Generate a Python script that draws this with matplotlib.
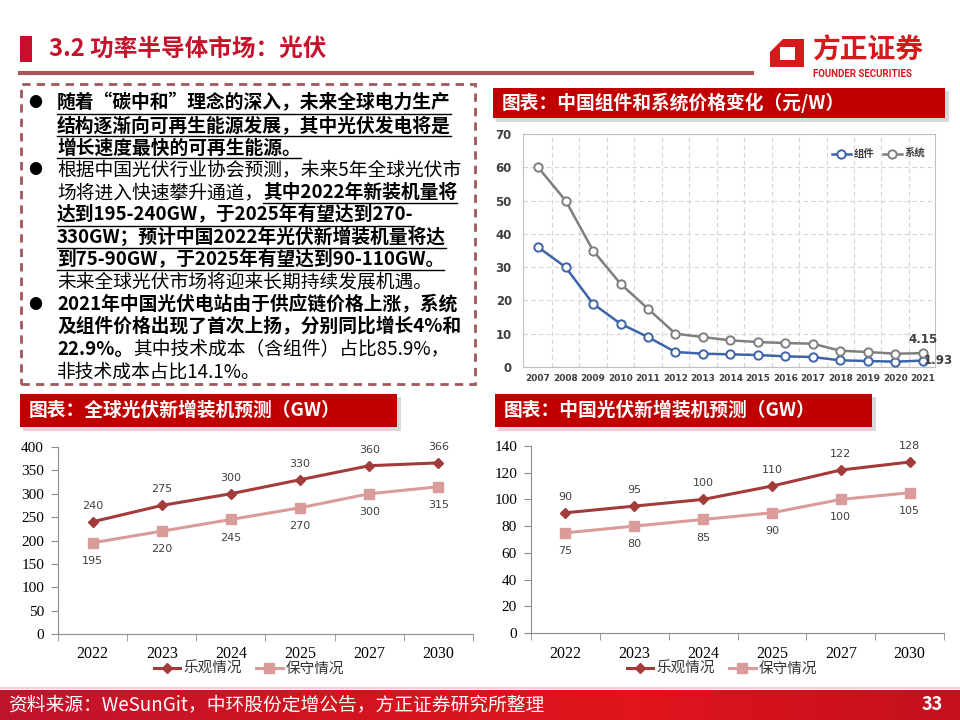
import matplotlib
matplotlib.use('Agg')
import matplotlib.pyplot as plt
from matplotlib.patches import Rectangle, Polygon
from matplotlib.colors import LinearSegmentedColormap
import numpy as np

W, H = 960, 720
CJK = ['Noto Sans CJK SC', 'DejaVu Sans']
SERIF = ['Liberation Serif', 'DejaVu Serif']

# price chart data (yuan/W)
price_years = ['2007', '2008', '2009', '2010', '2011', '2012', '2013', '2014',
               '2015', '2016', '2017', '2018', '2019', '2020', '2021']
module_price = [36, 30, 19, 13, 9, 4.5, 4, 3.8, 3.6, 3.2, 3, 2, 1.8, 1.6, 1.93]
system_price = [60, 50, 35, 25, 17.5, 10, 9, 8, 7.5, 7.2, 7, 4.9, 4.5, 4, 4.15]

# installation forecasts (GW)
forecast_years = ['2022', '2023', '2024', '2025', '2027', '2030']
global_optimistic = [240, 275, 300, 330, 360, 366]
global_conservative = [195, 220, 245, 270, 300, 315]
china_optimistic = [90, 95, 100, 110, 122, 128]
china_conservative = [75, 80, 85, 90, 100, 105]

body_lines = [
    [('随着“碳中和”理念的深入，未来全球电力生产', True, True)],
    [('结构逐渐向可再生能源发展，其中光伏发电将是', True, True)],
    [('增长速度最快的可再生能源。', True, True)],
    [('根据中国光伏行业协会预测，未来5年全球光伏市', False, False)],
    [('场将进入快速攀升通道，', False, False), ('其中2022年新装机量将', True, True)],
    [('达到195-240GW，于2025年有望达到270-', True, True)],
    [('330GW；预计中国2022年光伏新增装机量将达', True, True)],
    [('到75-90GW，于2025年有望达到90-110GW。', True, True)],
    [('未来全球光伏市场将迎来长期持续发展机遇。', False, False)],
    [('2021年中国光伏电站由于供应链价格上涨，系统', True, False)],
    [('及组件价格出现了首次上扬，分别同比增长4%和', True, False)],
    [('22.9%。', True, False), ('其中技术成本（含组件）占比85.9%，', False, False)],
    [('非技术成本占比14.1%。', False, False)],
]
bullet_rows = [0, 3, 9]


def fy(y):
    return 1 - y / H


def frect(x0, y0, x1, y1):
    return [x0 / W, 1 - y1 / H, (x1 - x0) / W, (y1 - y0) / H]


def add_rect(fig, x0, y0, x1, y1, **kw):
    fig.patches.append(Rectangle((x0 / W, fy(y1)), (x1 - x0) / W, (y1 - y0) / H,
                                 transform=fig.transFigure, **kw))


def add_line(fig, x0, y0, x1, y1, **kw):
    fig.add_artist(plt.Line2D([x0 / W, x1 / W], [fy(y0), fy(y1)],
                              transform=fig.transFigure, **kw))


def header(fig, x0, y0, x1, y1, text):
    add_rect(fig, x0 + 3, y0 + 3, x1 + 4, y1 + 4, fc='#D9D9D9', ec='none')
    add_rect(fig, x0, y0, x1, y1, fc='#C00000', ec='none')
    fig.text((x0 + 9) / W, fy((y0 + y1) / 2), text, family=CJK, fontsize=13.5,
             fontweight='bold', color='white', va='center', ha='left')


fig = plt.figure(figsize=(9.6, 7.2), dpi=100)
renderer = fig.canvas.get_renderer()

# title
add_rect(fig, 20, 36, 32, 62, fc='#C8102E', ec='none')
fig.text(49 / W, fy(49), '3.2 功率半导体市场：光伏', family=CJK, fontsize=17,
         fontweight='bold', color='#C4122B', va='center')
add_line(fig, 20, 73, 752, 73, color='#A85656', lw=3)

# logo
fig.patches.append(Polygon([(770 / W, fy(52)), (783 / W, fy(39)), (804 / W, fy(39)),
                            (804 / W, fy(67)), (770 / W, fy(67))],
                           closed=True, transform=fig.transFigure, fc='#D7191C', ec='none'))
add_rect(fig, 780, 47, 795, 60, fc='white', ec='none')
fig.text(812 / W, fy(51), '方正证券', family=CJK, fontsize=20, fontweight='bold',
         color='#D7191C', va='center')
fig.text(813 / W, fy(74), 'FOUNDER SECURITIES', family=['Roboto', 'DejaVu Sans'],
         fontsize=7, fontweight='bold', color='#D7191C', va='center')

# bullet box
fig.patches.append(Rectangle((21 / W, fy(384)), (475 - 21) / W, (384 - 84) / H,
                             transform=fig.transFigure, fill=False, ec='#A0585A',
                             lw=2, ls=(0, (3, 2.2))))
for i, segs in enumerate(body_lines):
    y = 103 + 22.4 * i
    x = 57
    if i in bullet_rows:
        fig.text(35 / W, fy(y), '●', family=CJK, fontsize=10, va='center', ha='center')
    for s, bold, ul in segs:
        t = fig.text(x / W, fy(y), s, family=CJK, fontsize=13.5,
                     fontweight='bold' if bold else 'normal', color='black',
                     va='center', ha='left')
        w = t.get_window_extent(renderer).width
        if ul:
            add_line(fig, x, y + 10.5, x + w, y + 10.5, color='black', lw=1)
        x += w

# price chart
header(fig, 493, 88, 945, 118, '图表：中国组件和系统价格变化（元/W）')
ax1 = fig.add_axes(frect(523, 134, 935, 367))
xp = np.arange(len(price_years))
ax1.plot(xp, module_price, color='#3D64A8', lw=1.8, marker='o', ms=6,
         mfc='white', mew=1.4, label='组件', zorder=3)
ax1.plot(xp, system_price, color='#7F7F7F', lw=1.8, marker='o', ms=6,
         mfc='white', mew=1.4, label='系统', zorder=3)
ax1.set_xlim(-0.55, 14.45)
ax1.set_ylim(0, 70)
yt = list(range(0, 71, 10))
ax1.set_yticks(yt, labels=[str(v) for v in yt], fontweight='bold')
ax1.set_xticks(xp, labels=price_years, fontweight='bold')
ax1.set_xticks(np.arange(0.5, 14, 1), minor=True)
ax1.grid(which='minor', axis='x', ls=(0, (4, 3)), color='#D4D4D4', lw=0.8)
ax1.grid(which='major', axis='y', ls=(0, (4, 3)), color='#D4D4D4', lw=0.8)
ax1.tick_params(which='both', length=0)
ax1.tick_params(axis='x', pad=5, labelsize=6.5, labelcolor='#404040')
ax1.tick_params(axis='y', pad=8, labelsize=8.5, labelcolor='#404040')
for sp in ax1.spines.values():
    sp.set_color('#BFBFBF')
ax1.annotate(f'{system_price[-1]:.2f}', (xp[-1], system_price[-1]), xytext=(0, 10),
             textcoords='offset points', ha='center', va='center', fontsize=8.5,
             fontweight='bold', color='#404040')
ax1.annotate(f'{module_price[-1]:.2f}', (xp[-1], module_price[-1]), xytext=(1, 0),
             textcoords='offset points', ha='left', va='center', fontsize=8.5,
             fontweight='bold', color='#404040')
ax1.legend(loc='upper right', bbox_to_anchor=(1.0, 0.975), ncol=2, frameon=False,
           prop=dict(family=CJK, size=7.5, weight='bold'), handlelength=1.8,
           columnspacing=0.8, handletextpad=0.3, labelcolor='#404040')


def forecast(rect, opt, cons, ymax, step, legend_x):
    ax = fig.add_axes(rect)
    x = np.arange(len(forecast_years))
    ax.plot(x, opt, color='#A33B3B', lw=2.2, marker='D', ms=5, label='乐观情况', zorder=3)
    ax.plot(x, cons, color='#DA9B9B', lw=2.2, marker='s', ms=7.5, label='保守情况', zorder=3)
    for xi, v in zip(x, opt):
        ax.annotate(str(v), (xi, v), xytext=(0, 11.5), textcoords='offset points',
                    ha='center', va='center', fontsize=8, color='#404040')
    for xi, v in zip(x, cons):
        ax.annotate(str(v), (xi, v), xytext=(0, -13), textcoords='offset points',
                    ha='center', va='center', fontsize=8, color='#404040')
    ax.set_xlim(-0.5, len(x) - 0.5)
    ax.set_ylim(0, ymax)
    ax.set_yticks(list(range(0, ymax + 1, step)))
    ax.set_xticks(x, labels=forecast_years)
    ax.set_xticks(np.arange(-0.5, len(x), 1), minor=True)
    ax.tick_params(axis='x', which='major', length=0, pad=9, labelsize=11.5)
    ax.tick_params(axis='x', which='minor', length=5, color='#8C8C8C')
    ax.tick_params(axis='y', length=5, color='#8C8C8C', pad=5, labelsize=11)
    for s in ['top', 'right']:
        ax.spines[s].set_visible(False)
    for s in ['left', 'bottom']:
        ax.spines[s].set_color('#8C8C8C')
    ax.legend(loc='center', bbox_to_anchor=(legend_x / W, fy(669)),
              bbox_transform=fig.transFigure, ncol=2, frameon=False,
              prop=dict(family=CJK, size=10.5), handlelength=1.8,
              columnspacing=1.0, handletextpad=0.2, labelcolor='#333333')
    return ax


header(fig, 20, 394, 397, 427, '图表：全球光伏新增装机预测（GW）')
ax2 = forecast(frect(58, 447, 473, 634), global_optimistic, global_conservative, 400, 50, 249)
header(fig, 495, 394, 872, 427, '图表：中国光伏新增装机预测（GW）')
ax3 = forecast(frect(531, 446, 944, 633), china_optimistic, china_conservative, 140, 20, 722)

# footer
add_line(fig, 0, 688, 960, 688, color='#F6D3D3', lw=1.5)
axf = fig.add_axes(frect(0, 690, 960, 720))
cmap = LinearSegmentedColormap.from_list('f', ['#C0142E', '#D11420', '#E0141C', '#C4101E'])
axf.imshow(np.linspace(0, 1, 256)[None, :], aspect='auto', cmap=cmap, extent=(0, 1, 0, 1))
axf.set_axis_off()
fig.text(8 / W, fy(705), '资料来源：WeSunGit，中环股份定增公告，方正证券研究所整理',
         family=CJK, fontsize=13.5, color='white', va='center', ha='left', zorder=5)
fig.text(943 / W, fy(704), '33', family=CJK, fontsize=13, fontweight='bold',
         color='white', va='center', ha='right', zorder=5)

# serif tick labels on the forecast charts
fig.canvas.draw()
for ax in (ax2, ax3):
    for tk in ax.yaxis.get_major_ticks() + ax.xaxis.get_major_ticks():
        tk.label1.set_fontfamily(SERIF)

fig.savefig('out.png', dpi=100)
